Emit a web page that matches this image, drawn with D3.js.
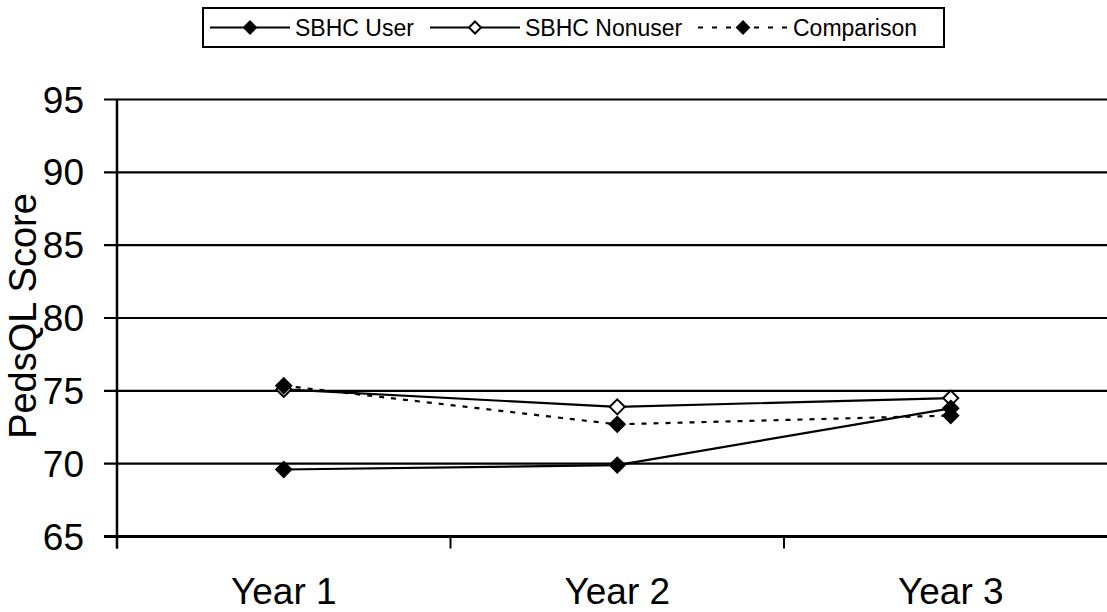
<html>
<head>
<script src="https://cdnjs.cloudflare.com/ajax/libs/d3/7.8.5/d3.min.js"></script>
<style>
  body { margin: 0; background: #fff; }
  text { font-family: "Liberation Sans", Arial, sans-serif; fill: #000; }
</style>
</head>
<body>
<svg width="1107" height="612"></svg>
<script>
// data
var years = ["Year 1", "Year 2", "Year 3"];
var userScores = [69.6, 69.9, 73.8];
var nonuserScores = [75.1, 73.9, 74.5];
var comparisonScores = [75.35, 72.7, 73.3];
var yTicks = [65, 70, 75, 80, 85, 90, 95];

var series = [
  {name: "SBHC User", values: userScores, fill: "#000", dash: null},
  {name: "SBHC Nonuser", values: nonuserScores, fill: "#fff", dash: null},
  {name: "Comparison", values: comparisonScores, fill: "#000", dash: "5,7"}
];

var svg = d3.select("svg");
var plotL = 117, plotB = 536.5, plotT = 99.5, plotR = 1117.5;

var x = d3.scaleBand().domain(years).range([plotL, plotR]);
var y = d3.scaleLinear().domain([65, 95]).range([plotB, plotT]);

// gridlines + y ticks
svg.selectAll(".grid").data(yTicks).enter().append("line")
  .attr("x1", plotL - 13).attr("x2", 1107)
  .attr("y1", d => y(d)).attr("y2", d => y(d))
  .style("stroke", "#000").style("stroke-width", d => d == 65 ? 3 : 2.2);

svg.selectAll(".ylab").data(yTicks).enter().append("text")
  .attr("x", 84).attr("y", d => y(d) + 13)
  .attr("text-anchor", "end").style("font-size", "37px")
  .text(d => d);

// y axis line
svg.append("line").attr("x1", plotL).attr("x2", plotL)
  .attr("y1", plotT).attr("y2", plotB + 12)
  .style("stroke", "#000").style("stroke-width", 2.5);

// x ticks at band edges
var edges = years.map(d => x(d)).concat([plotR]);
svg.selectAll(".xtick").data(edges).enter().append("line")
  .attr("x1", d => d).attr("x2", d => d)
  .attr("y1", plotB).attr("y2", plotB + 12)
  .style("stroke", "#000").style("stroke-width", 2);

svg.selectAll(".xlab").data(years).enter().append("text")
  .attr("x", d => x(d) + x.bandwidth() / 2).attr("y", 604)
  .attr("text-anchor", "middle").style("font-size", "37px")
  .text(d => d);

svg.append("text")
  .attr("transform", "translate(36,316) rotate(-90)")
  .attr("text-anchor", "middle").style("font-size", "38px")
  .text("PedsQL Score");

var cx = (d, i) => x(years[i]) + x.bandwidth() / 2;
var line = d3.line().x((d, i) => cx(d, i)).y(d => y(d));

function diamond(g, px, py, r, fill) {
  g.append("path")
    .attr("d", "M" + px + "," + (py - r) + "L" + (px + r) + "," + py + "L" + px + "," + (py + r) + "L" + (px - r) + "," + py + "Z")
    .style("fill", fill).style("stroke", "#000").style("stroke-width", 2);
}

// draw nonuser first, then user, then comparison on top
[1, 0, 2].forEach(k => {
  var s = series[k];
  svg.append("path").datum(s.values)
    .attr("d", line)
    .style("fill", "none").style("stroke", "#000").style("stroke-width", 2.2)
    .style("stroke-dasharray", s.dash);
  var g = svg.append("g");
  s.values.forEach((v, i) => diamond(g, cx(v, i), y(v), 7.5, s.fill));
});

// legend
svg.append("rect").attr("x", 203).attr("y", 8).attr("width", 741).attr("height", 39)
  .style("fill", "#fff").style("stroke", "#000").style("stroke-width", 2);

var legendStart = [210, 430, 698];
series.forEach((s, i) => {
  var lx = legendStart[i];
  var len = i == 0 ? 80 : 90;
  svg.append("line").attr("x1", lx).attr("x2", lx + len)
    .attr("y1", 27.5).attr("y2", 27.5)
    .style("stroke", "#000").style("stroke-width", 2.2)
    .style("stroke-dasharray", s.dash ? "5,9" : null);
  diamond(svg, lx + len / 2, 27.5, 6, s.fill);
  svg.append("text").attr("x", lx + len + 5).attr("y", 36)
    .style("font-size", "23px").text(s.name);
});
</script>
</body>
</html>
